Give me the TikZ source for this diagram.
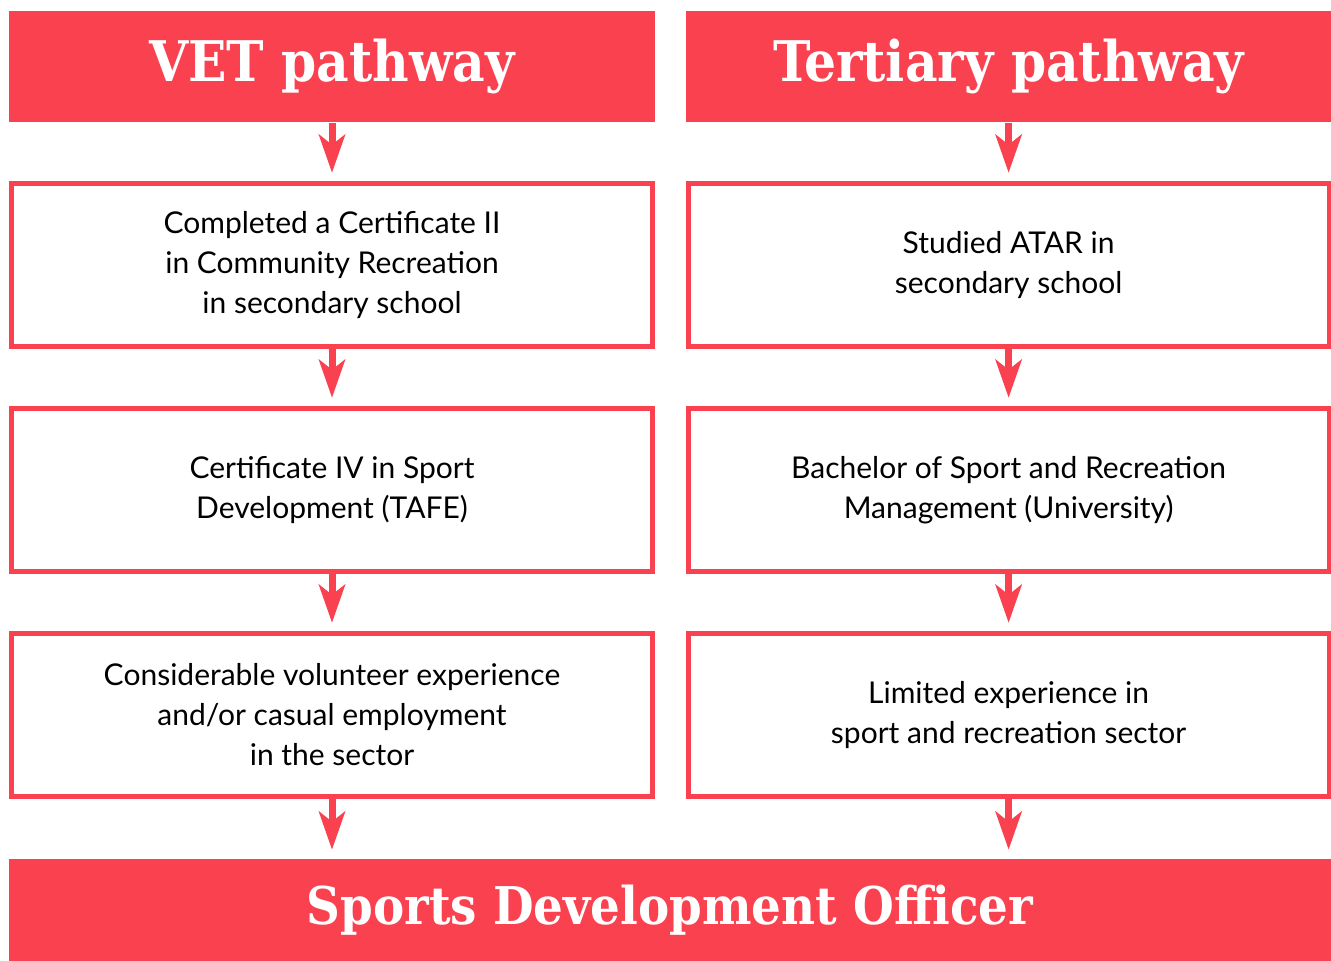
\documentclass[tikz,border=0pt]{standalone}
\usepackage{fontspec}
\setmainfont{Lato}
\newfontfamily\slabfont{DejaVu Serif Condensed}
\usepackage{tikz}
\usetikzlibrary{positioning}
\usetikzlibrary{arrows.meta}
\definecolor{pathred}{HTML}{F9414F}

\begin{document}
\begin{tikzpicture}[node distance={28.5pt}, thick,
    head/.style = {fill=pathred, text=white, minimum width=323pt, minimum height=55.5pt, inner sep=0pt, font=\slabfont\bfseries\fontsize{28}{34}\selectfont},
    stepbox/.style = {draw=pathred, line width=2.5pt, minimum width=320.5pt, minimum height=81.5pt, align=center, inner sep=0pt, font=\fontsize{15}{20}\selectfont},
    flow/.style = {draw=pathred, line width=3.5pt, -{Stealth[length=19pt, width=13pt, inset=5pt]}, shorten >=4pt}]
            \useasboundingbox (0,0) rectangle (665.5pt,-480pt);
            % Headers
            \node[head] (vet) at (166pt,-33.25pt) {VET pathway};
            \node[head] (ter) [right=14.5pt of vet] {Tertiary pathway};
            % VET steps
            \node[stepbox] (v1) [below=29pt of vet] {Completed a Certificate II\\in Community Recreation\\in secondary school};
            \node[stepbox] (v2) [below=28.5pt of v1] {Certificate IV in Sport\\Development (TAFE)};
            \node[stepbox] (v3) [below=28.5pt of v2] {Considerable volunteer experience\\and/or casual employment\\in the sector};
            % Tertiary steps
            \node[stepbox] (t1) [below=29pt of ter] {Studied ATAR in\\secondary school};
            \node[stepbox] (t2) [below=28.5pt of t1] {Bachelor of Sport and Recreation\\Management (University)};
            \node[stepbox] (t3) [below=28.5pt of t2] {Limited experience in\\sport and recreation sector};
            % Goal
            \node[head, minimum width=661pt, minimum height=51.5pt, font=\slabfont\bfseries\fontsize{26}{30}\selectfont] (sdo) at (335pt,-455pt) {Sports Development Officer};
            % Arrows
            \draw[flow] (vet) -- (v1);
            \draw[flow] (v1) -- (v2);
            \draw[flow] (v2) -- (v3);
            \draw[flow] (v3) -- (v3 |- sdo.north);
            \draw[flow] (ter) -- (t1);
            \draw[flow] (t1) -- (t2);
            \draw[flow] (t2) -- (t3);
            \draw[flow] (t3) -- (t3 |- sdo.north);
\end{tikzpicture}
\end{document}
